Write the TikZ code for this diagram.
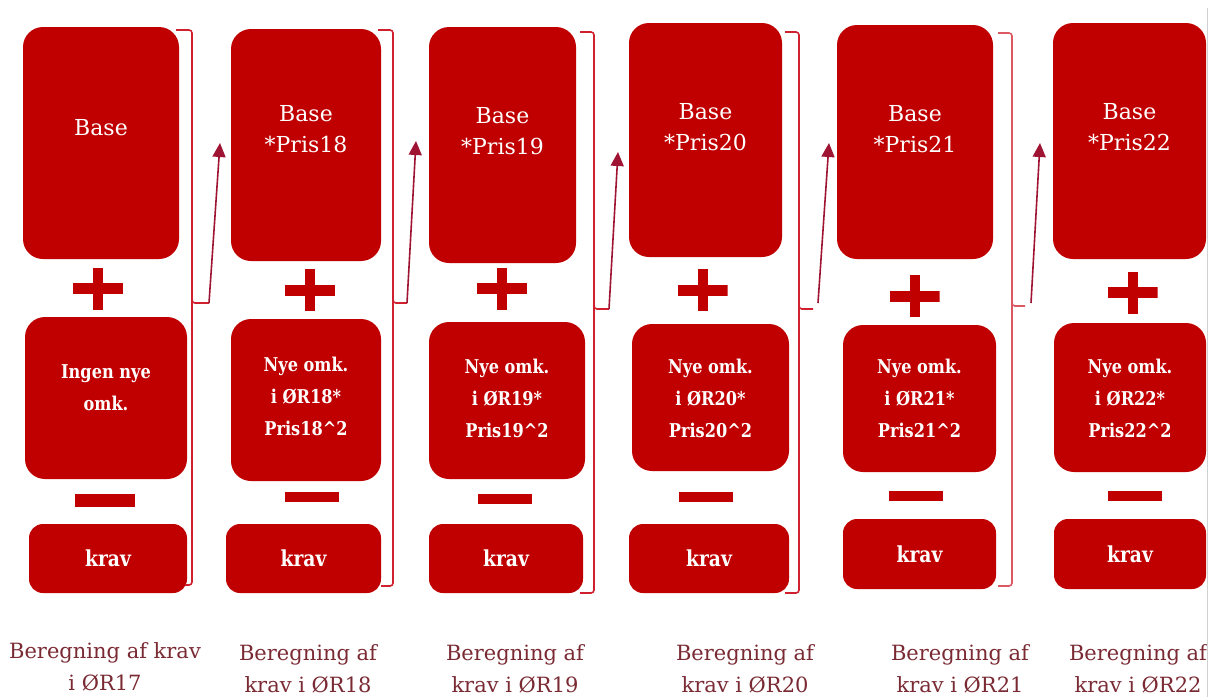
\documentclass[tikz,border=0pt]{standalone}
\usepackage{fontspec}
\setmainfont{DejaVu Serif}
\newfontfamily\condfont{DejaVu Serif}[FakeStretch=0.85]
\usetikzlibrary{arrows.meta}
\definecolor{boxred}{HTML}{C00000}
\definecolor{bracered}{HTML}{D0202E}
\definecolor{arrowred}{HTML}{9E1432}
\definecolor{labelred}{HTML}{7A2A33}
\tikzset{
  redbox/.style={fill=boxred, draw=none, rounded corners=20pt, inner sep=0pt},
  kravbox/.style={fill=boxred, draw=none, rounded corners=14pt, inner sep=0pt},
  basetext/.style={text=white, align=center, inner sep=0pt, font=\fontsize{22}{31}\selectfont},
  midtext/.style={text=white, align=center, inner sep=0pt, font=\condfont\bfseries\fontsize{19}{32}\selectfont},
  kravtext/.style={text=white, inner sep=0pt, font=\condfont\bfseries\fontsize{22}{25}\selectfont},
  labeltext/.style={text=labelred, align=center, inner sep=0pt, font=\fontsize{21}{32}\selectfont},
  plusmark/.style={minimum width=50pt, minimum height=42pt, inner sep=0pt,
    path picture={\fill[boxred] ([yshift=-5.5pt]path picture bounding box.west) rectangle ([yshift=5.5pt]path picture bounding box.east);
                  \fill[boxred] ([xshift=-5pt]path picture bounding box.south) rectangle ([xshift=5pt]path picture bounding box.north);}},
  minusmark/.style={fill=boxred, minimum width=54pt, minimum height=10pt, inner sep=0pt},
  bracket/.style={draw=bracered, line width=1.6pt, rounded corners=3pt},
  flowarrow/.style={draw=arrowred, line width=1.6pt, -{Triangle[length=14pt,width=13pt]}},
}
\begin{document}
\begin{tikzpicture}[x=1pt,y=-1pt]
\useasboundingbox (0,0) rectangle (1208,697);
% page edge line
\draw[draw=black!18, line width=0.8pt] (1207,8) -- (1207,697);

% ---------- column 1 ----------
\node[redbox, minimum width=156pt, minimum height=232pt] (b1) at (101,143) {};
\node[basetext] (b1t) at (101,128) {Base};
\node[plusmark] (p1) at (98,288.5) {};
\node[redbox, minimum width=162pt, minimum height=162pt] (m1) at (106,398) {};
\node[midtext] (m1t) at (106,388) {Ingen nye\\omk.};
\node[minusmark, minimum width=60pt, minimum height=13pt] (n1) at (105,500.5) {};
\node[kravbox, minimum width=158pt, minimum height=69pt] (k1) at (108,558.5) {};
\node[kravtext] (k1t) at (108,558) {krav};
\node[labeltext] (l1) at (105,667) {Beregning af krav\\i ØR17};

% ---------- column 2 ----------
\node[redbox, minimum width=150pt, minimum height=232pt] (b2) at (306,145) {};
\node[basetext] (b2t) at (306,129) {Base\\*Pris18};
\node[plusmark] (p2) at (310,290) {};
\node[redbox, minimum width=150pt, minimum height=162pt] (m2) at (306,400) {};
\node[midtext] (m2t) at (306,396) {Nye omk.\\i ØR18*\\Pris18\textasciicircum 2};
\node[minusmark] (n2) at (312,497) {};
\node[kravbox, minimum width=155pt, minimum height=69pt] (k2) at (303.5,558.5) {};
\node[kravtext] (k2t) at (303.5,558) {krav};
\node[labeltext] (l2) at (308,669) {Beregning af\\krav i ØR18};

% ---------- column 3 ----------
\node[redbox, minimum width=147pt, minimum height=236pt] (b3) at (502.5,145) {};
\node[basetext] (b3t) at (502.5,131) {Base\\*Pris19};
\node[plusmark] (p3) at (502,288.5) {};
\node[redbox, minimum width=156pt, minimum height=157pt] (m3) at (507,400.5) {};
\node[midtext] (m3t) at (507,398) {Nye omk.\\i ØR19*\\Pris19\textasciicircum 2};
\node[minusmark] (n3) at (504.5,499) {};
\node[kravbox, minimum width=154pt, minimum height=69pt] (k3) at (506,558.5) {};
\node[kravtext] (k3t) at (506,558) {krav};
\node[labeltext] (l3) at (515,669) {Beregning af\\krav i ØR19};

% ---------- column 4 ----------
\node[redbox, minimum width=153pt, minimum height=234pt] (b4) at (705.5,140) {};
\node[basetext] (b4t) at (705.5,127) {Base\\*Pris20};
\node[plusmark] (p4) at (702.5,290) {};
\node[redbox, minimum width=157pt, minimum height=147pt] (m4) at (710.5,397.5) {};
\node[midtext] (m4t) at (710.5,398) {Nye omk.\\i ØR20*\\Pris20\textasciicircum 2};
\node[minusmark] (n4) at (706,497) {};
\node[kravbox, minimum width=160pt, minimum height=69pt] (k4) at (709,558.5) {};
\node[kravtext] (k4t) at (709,558) {krav};
\node[labeltext] (l4) at (745,669) {Beregning af\\krav i ØR20};

% ---------- column 5 ----------
\node[redbox, minimum width=156pt, minimum height=234pt] (b5) at (915,142) {};
\node[basetext] (b5t) at (915,129) {Base\\*Pris21};
\node[plusmark] (p5) at (914.5,296) {};
\node[redbox, minimum width=153pt, minimum height=147pt] (m5) at (919.5,398.5) {};
\node[midtext] (m5t) at (919.5,398) {Nye omk.\\i ØR21*\\Pris21\textasciicircum 2};
\node[minusmark] (n5) at (916,495.5) {};
\node[kravbox, minimum width=153pt, minimum height=70pt] (k5) at (919.5,554) {};
\node[kravtext] (k5t) at (919.5,554) {krav};
\node[labeltext] (l5) at (960,669) {Beregning af\\krav i ØR21};

% ---------- column 6 ----------
\node[redbox, minimum width=153pt, minimum height=236pt] (b6) at (1129.5,141) {};
\node[basetext] (b6t) at (1129.5,127) {Base\\*Pris22};
\node[plusmark] (p6) at (1132.5,292.5) {};
\node[redbox, minimum width=152pt, minimum height=149pt] (m6) at (1130,397.5) {};
\node[midtext] (m6t) at (1130,398) {Nye omk.\\i ØR22*\\Pris22\textasciicircum 2};
\node[minusmark] (n6) at (1135,495.5) {};
\node[kravbox, minimum width=152pt, minimum height=70pt] (k6) at (1130,554) {};
\node[kravtext] (k6t) at (1130,554) {krav};
\begin{scope}
\clip (1000,600) rectangle (1206,697);
\node[labeltext] (l6) at (1138,669) {Beregning af\\krav i ØR22};
\end{scope}

% ---------- brackets ----------
\coordinate (c1) at (209,303);
\coordinate (c2) at (407,303);
\coordinate (c3) at (609,309);
\coordinate (c4) at (813,309);
\coordinate (c5) at (1025,306);
\draw[bracket] (176,30) -- (192,30) -- (192,303) -- (c1);
\draw[bracket] (192,300) -- (192,585) -- (185,585);
\draw[bracket] (378,30) -- (393,30) -- (393,303) -- (c2);
\draw[bracket] (393,300) -- (393,586) -- (381,586);
\draw[bracket] (580,32) -- (594,32) -- (594,309) -- (c3);
\draw[bracket] (594,306) -- (594,593) -- (580,593);
\draw[bracket] (785,32) -- (799,32) -- (799,309) -- (c4);
\draw[bracket] (799,306) -- (799,593) -- (785,593);
\draw[bracket, draw=bracered!75] (998,33) -- (1012,33) -- (1012,306) -- (c5);
\draw[bracket, draw=bracered!75] (1012,303) -- (1012,586) -- (998,586);

% ---------- arrows ----------
\coordinate (a4) at (818,303);
\coordinate (a5) at (1031,303);
\coordinate (t1) at (220,143);
\coordinate (t2) at (416,141);
\coordinate (t3) at (618,152);
\coordinate (t4) at (829,143);
\coordinate (t5) at (1040,143);
\draw[flowarrow] (c1) -- (t1);
\draw[flowarrow] (c2) -- (t2);
\draw[flowarrow] (c3) -- (t3);
\draw[flowarrow] (a4) -- (t4);
\draw[flowarrow] (a5) -- (t5);
\end{tikzpicture}
\end{document}
